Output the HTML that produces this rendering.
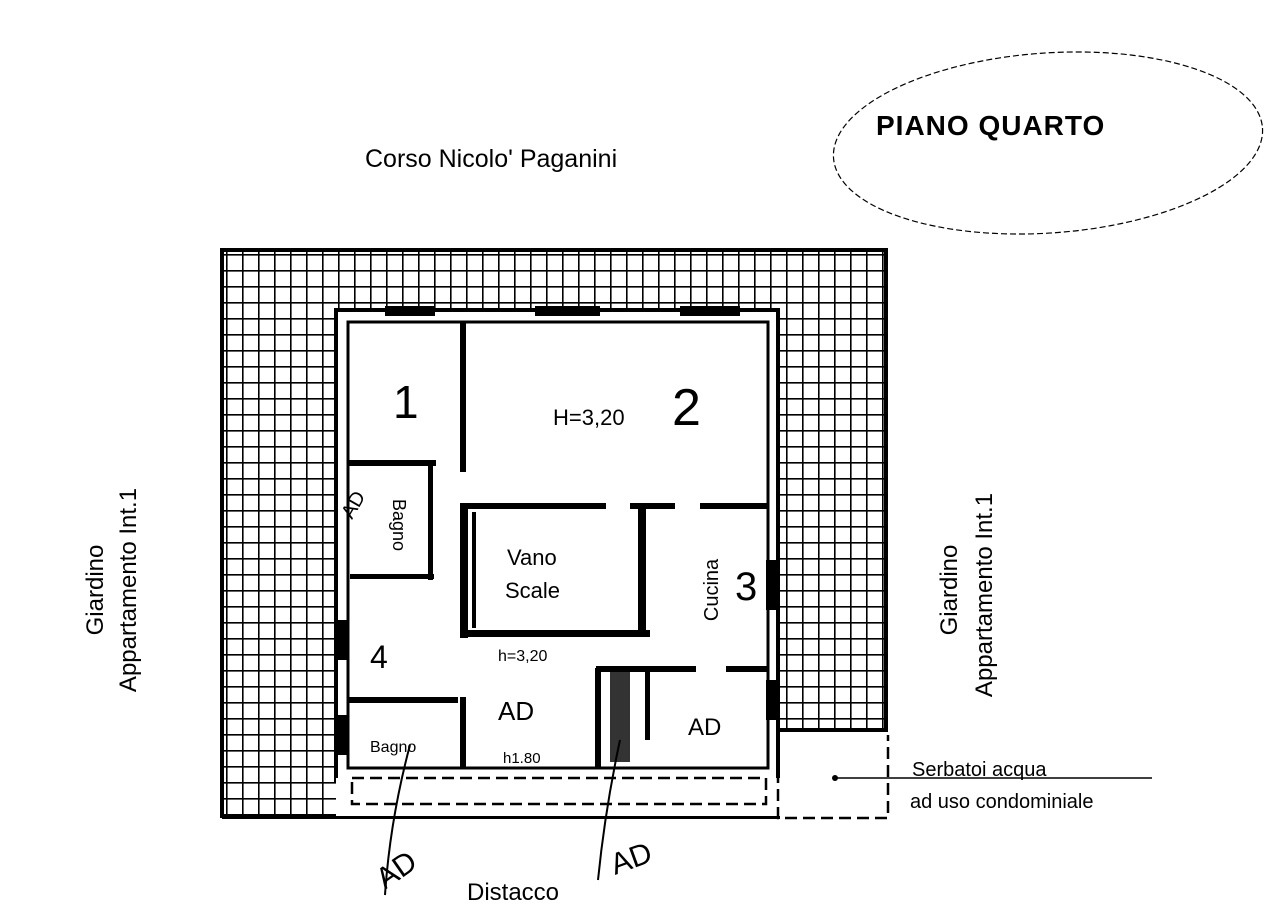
<!DOCTYPE html>
<html><head><style>
body{margin:0;background:#fff;width:1280px;height:921px;overflow:hidden}
svg{display:block}
text{font-family:"Liberation Sans",sans-serif;fill:#000}
</style></head><body>
<svg width="1280" height="921" viewBox="0 0 1280 921">
<defs>
<pattern id="g" x="226" y="254" width="16" height="16" patternUnits="userSpaceOnUse">
<rect width="16" height="16" fill="#fff"/>
<path d="M0 0H16M0 0V16" stroke="#000" stroke-width="3.2"/>
</pattern>
</defs>
<rect x="222" y="250" width="664" height="62" fill="url(#g)"/>
<rect x="222" y="250" width="114" height="568" fill="url(#g)"/>
<rect x="778" y="250" width="108" height="480" fill="url(#g)"/>
<path d="M222 818V250H886V730H778" fill="none" stroke="#000" stroke-width="4"/>
<line x1="222" y1="817" x2="780" y2="817" stroke="#000" stroke-width="4"/>
<rect x="336" y="310" width="442" height="470" fill="#fff" stroke="#000" stroke-width="4"/>
<rect x="348" y="322" width="420" height="446" fill="none" stroke="#000" stroke-width="3"/>
<rect x="336" y="778" width="444" height="38" fill="#fff"/>
<rect x="352" y="778" width="414" height="26" fill="none" stroke="#000" stroke-width="2.5" stroke-dasharray="12 6"/>
<path d="M778 735V818H888V735" fill="none" stroke="#000" stroke-width="2.5" stroke-dasharray="12 6"/>
<g fill="#000">
<rect x="460" y="322" width="6" height="150"/>
<rect x="348" y="460" width="88" height="6"/>
<rect x="428" y="462" width="5" height="118"/>
<rect x="350" y="574" width="84" height="5"/>
<rect x="466" y="503" width="140" height="6"/>
<rect x="630" y="503" width="45" height="6"/>
<rect x="700" y="503" width="68" height="6"/>
<rect x="460" y="503" width="8" height="135"/>
<rect x="460" y="630" width="190" height="7"/>
<rect x="472" y="512" width="4" height="116"/>
<rect x="638" y="505" width="8" height="130"/>
<rect x="596" y="666" width="100" height="6"/>
<rect x="726" y="666" width="42" height="6"/>
<rect x="348" y="697" width="110" height="6"/>
<rect x="460" y="697" width="6" height="72"/>
<rect x="595" y="668" width="6" height="100"/>
<rect x="645" y="668" width="5" height="72"/>
<rect x="336" y="620" width="12" height="40"/>
<rect x="336" y="715" width="12" height="40"/>
<rect x="766" y="560" width="12" height="50"/>
<rect x="766" y="680" width="12" height="40"/>
<rect x="385" y="306" width="50" height="10"/>
<rect x="535" y="306" width="65" height="10"/>
<rect x="680" y="306" width="60" height="10"/>
<rect x="610" y="672" width="20" height="90" opacity=".8"/>
</g>
<path d="M410 745 Q390 820 385 895" stroke="#000" stroke-width="2" fill="none"/>
<path d="M620 740 Q605 810 598 880" stroke="#000" stroke-width="2" fill="none"/>
<circle cx="835" cy="778" r="3" fill="#000"/>
<line x1="835" y1="778" x2="1152" y2="778" stroke="#000" stroke-width="1.5"/>
<ellipse cx="1048" cy="143" rx="215" ry="90" fill="none" stroke="#000" stroke-width="1.2" stroke-dasharray="6 3" transform="rotate(-4 1048 143)"/>
<text x="365" y="167" font-size="25">Corso Nicolo' Paganini</text>
<text x="876" y="135" font-size="28" font-weight="bold" letter-spacing="1">PIANO  QUARTO</text>
<text transform="translate(103,590) rotate(-90)" font-size="24" text-anchor="middle">Giardino</text>
<text transform="translate(136,590) rotate(-90)" font-size="24" text-anchor="middle">Appartamento Int.1</text>
<text transform="translate(957,590) rotate(-90)" font-size="24" text-anchor="middle">Giardino</text>
<text transform="translate(992,595) rotate(-90)" font-size="24" text-anchor="middle">Appartamento Int.1</text>
<text x="393" y="418" font-size="46">1</text>
<text x="553" y="425" font-size="22">H=3,20</text>
<text x="672" y="425" font-size="52">2</text>
<text x="507" y="565" font-size="22">Vano</text>
<text x="505" y="598" font-size="22">Scale</text>
<text transform="translate(718,590) rotate(-90)" font-size="20" text-anchor="middle">Cucina</text>
<text x="735" y="600" font-size="40">3</text>
<text transform="translate(393,525) rotate(90)" font-size="18" text-anchor="middle">Bagno</text>
<text transform="translate(352,520) rotate(-60)" font-size="20">AD</text>
<text x="370" y="668" font-size="32">4</text>
<text x="498" y="661" font-size="16">h=3,20</text>
<text x="498" y="720" font-size="26">AD</text>
<text x="503" y="763" font-size="15">h1.80</text>
<text x="370" y="752" font-size="16">Bagno</text>
<text x="688" y="735" font-size="24">AD</text>
<text x="912" y="776" font-size="20">Serbatoi acqua</text>
<text x="910" y="808" font-size="20">ad uso condominiale</text>
<text x="467" y="900" font-size="24">Distacco</text>
<text transform="translate(385,890) rotate(-35)" font-size="30">AD</text>
<text transform="translate(615,875) rotate(-20)" font-size="30">AD</text>
</svg>
</body></html>
